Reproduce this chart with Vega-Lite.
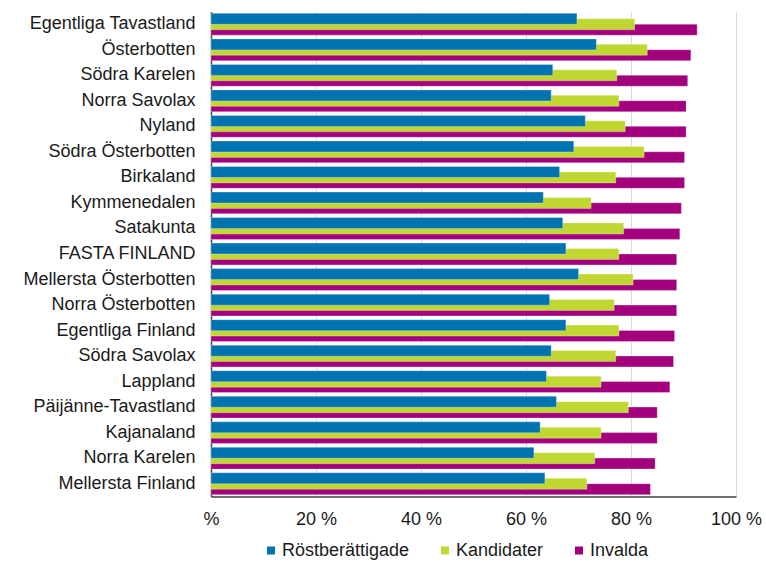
{
  "$schema": "https://vega.github.io/schema/vega-lite/v6.json",
  "width": 525,
  "height": 485,
  "autosize": "none",
  "padding": {"left": 211, "top": 11.5, "right": 30, "bottom": 68.5},
  "background": "#ffffff",
  "config": {"view": {"stroke": null}, "font": "Liberation Sans"},
  "data": {
    "values": [
      {"region": "Egentliga Tavastland", "serie": "Invalda", "value": 92.6},
      {"region": "Österbotten", "serie": "Invalda", "value": 91.4},
      {"region": "Södra Karelen", "serie": "Invalda", "value": 90.8},
      {"region": "Norra Savolax", "serie": "Invalda", "value": 90.5},
      {"region": "Nyland", "serie": "Invalda", "value": 90.5},
      {"region": "Södra Österbotten", "serie": "Invalda", "value": 90.2},
      {"region": "Birkaland", "serie": "Invalda", "value": 90.2},
      {"region": "Kymmenedalen", "serie": "Invalda", "value": 89.6},
      {"region": "Satakunta", "serie": "Invalda", "value": 89.3},
      {"region": "FASTA FINLAND", "serie": "Invalda", "value": 88.7},
      {"region": "Mellersta Österbotten", "serie": "Invalda", "value": 88.7},
      {"region": "Norra Österbotten", "serie": "Invalda", "value": 88.7},
      {"region": "Egentliga Finland", "serie": "Invalda", "value": 88.3},
      {"region": "Södra Savolax", "serie": "Invalda", "value": 88.1},
      {"region": "Lappland", "serie": "Invalda", "value": 87.4},
      {"region": "Päijänne-Tavastland", "serie": "Invalda", "value": 85.0},
      {"region": "Kajanaland", "serie": "Invalda", "value": 85.0},
      {"region": "Norra Karelen", "serie": "Invalda", "value": 84.6},
      {"region": "Mellersta Finland", "serie": "Invalda", "value": 83.7},
      {"region": "Egentliga Tavastland", "serie": "Kandidater", "value": 80.7},
      {"region": "Österbotten", "serie": "Kandidater", "value": 83.1},
      {"region": "Södra Karelen", "serie": "Kandidater", "value": 77.3},
      {"region": "Norra Savolax", "serie": "Kandidater", "value": 77.7},
      {"region": "Nyland", "serie": "Kandidater", "value": 78.9},
      {"region": "Södra Österbotten", "serie": "Kandidater", "value": 82.5},
      {"region": "Birkaland", "serie": "Kandidater", "value": 77.1},
      {"region": "Kymmenedalen", "serie": "Kandidater", "value": 72.4},
      {"region": "Satakunta", "serie": "Kandidater", "value": 78.6},
      {"region": "FASTA FINLAND", "serie": "Kandidater", "value": 77.7},
      {"region": "Mellersta Österbotten", "serie": "Kandidater", "value": 80.4},
      {"region": "Norra Österbotten", "serie": "Kandidater", "value": 76.8},
      {"region": "Egentliga Finland", "serie": "Kandidater", "value": 77.7},
      {"region": "Södra Savolax", "serie": "Kandidater", "value": 77.1},
      {"region": "Lappland", "serie": "Kandidater", "value": 74.3},
      {"region": "Päijänne-Tavastland", "serie": "Kandidater", "value": 79.5},
      {"region": "Kajanaland", "serie": "Kandidater", "value": 74.3},
      {"region": "Norra Karelen", "serie": "Kandidater", "value": 73.1},
      {"region": "Mellersta Finland", "serie": "Kandidater", "value": 71.6},
      {"region": "Egentliga Tavastland", "serie": "Röstberättigade", "value": 69.7},
      {"region": "Österbotten", "serie": "Röstberättigade", "value": 73.4},
      {"region": "Södra Karelen", "serie": "Röstberättigade", "value": 65.1},
      {"region": "Norra Savolax", "serie": "Röstberättigade", "value": 64.8},
      {"region": "Nyland", "serie": "Röstberättigade", "value": 71.3},
      {"region": "Södra Österbotten", "serie": "Röstberättigade", "value": 69.1},
      {"region": "Birkaland", "serie": "Röstberättigade", "value": 66.4},
      {"region": "Kymmenedalen", "serie": "Röstberättigade", "value": 63.3},
      {"region": "Satakunta", "serie": "Röstberättigade", "value": 67.0},
      {"region": "FASTA FINLAND", "serie": "Röstberättigade", "value": 67.6},
      {"region": "Mellersta Österbotten", "serie": "Röstberättigade", "value": 70.0},
      {"region": "Norra Österbotten", "serie": "Röstberättigade", "value": 64.5},
      {"region": "Egentliga Finland", "serie": "Röstberättigade", "value": 67.6},
      {"region": "Södra Savolax", "serie": "Röstberättigade", "value": 64.8},
      {"region": "Lappland", "serie": "Röstberättigade", "value": 63.9},
      {"region": "Päijänne-Tavastland", "serie": "Röstberättigade", "value": 65.8},
      {"region": "Kajanaland", "serie": "Röstberättigade", "value": 62.7},
      {"region": "Norra Karelen", "serie": "Röstberättigade", "value": 61.5},
      {"region": "Mellersta Finland", "serie": "Röstberättigade", "value": 63.6}
    ]
  },
  "mark": {"type": "bar", "height": 11, "stroke": "#ffffff", "strokeWidth": 0.6, "strokeOpacity": 0.5},
  "encoding": {
    "y": {
      "field": "region",
      "type": "nominal",
      "sort": ["Egentliga Tavastland", "Österbotten", "Södra Karelen", "Norra Savolax", "Nyland", "Södra Österbotten", "Birkaland", "Kymmenedalen", "Satakunta", "FASTA FINLAND", "Mellersta Österbotten", "Norra Österbotten", "Egentliga Finland", "Södra Savolax", "Lappland", "Päijänne-Tavastland", "Kajanaland", "Norra Karelen", "Mellersta Finland"],
      "scale": {"paddingInner": 0, "paddingOuter": 0},
      "axis": {"title": null, "ticks": false, "domainColor": "#404040", "domainWidth": 1.5, "labelFontSize": 18, "labelColor": "#1a1a1a", "labelPadding": 16, "labelLimit": 300}
    },
    "yOffset": {
      "field": "serie",
      "type": "nominal",
      "sort": ["Röstberättigade", "Kandidater", "Invalda"],
      "scale": {"paddingInner": 0, "paddingOuter": 0.86}
    },
    "x": {
      "field": "value",
      "type": "quantitative",
      "stack": null,
      "scale": {"domain": [0, 100], "nice": false},
      "axis": {"title": null, "values": [0, 20, 40, 60, 80, 100], "labelExpr": "datum.value == 0 ? '%' : datum.value + ' %'", "ticks": false, "grid": true, "gridColor": "#d9d9d9", "gridWidth": 1, "domainColor": "#404040", "domainWidth": 1.5, "labelFontSize": 18, "labelColor": "#1a1a1a", "labelPadding": 14, "labelFlush": false}
    },
    "color": {
      "field": "serie",
      "type": "nominal",
      "sort": ["Röstberättigade", "Kandidater", "Invalda"],
      "scale": {"domain": ["Röstberättigade", "Kandidater", "Invalda"], "range": ["#0073b0", "#bfd730", "#a3007e"]},
      "legend": {"orient": "none", "legendX": 51, "legendY": 530, "direction": "horizontal", "title": null, "symbolType": "square", "symbolSize": 64, "symbolStrokeWidth": 0, "labelFontSize": 18, "labelColor": "#1a1a1a", "columnPadding": 26, "labelOffset": 2}
    }
  }
}
